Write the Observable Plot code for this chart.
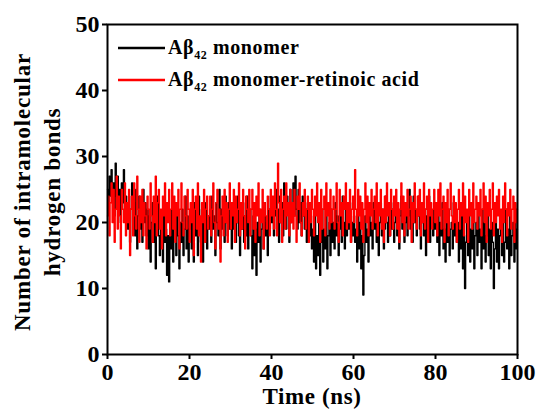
<!DOCTYPE html>
<html>
<head>
<meta charset="utf-8">
<script src="https://cdn.jsdelivr.net/npm/d3@7"></script>
<script src="https://cdn.jsdelivr.net/npm/@observablehq/plot@0.6"></script>
<style>
  html, body { margin: 0; padding: 0; background: #fff; }
</style>
</head>
<body>
<div id="chart"></div>
<script>
// Number of intramolecular hydrogen bonds, sampled every 0.25 ns over 0–100 ns
const monomer = [
  25,22,27,24,28,23,26,21,29,24,27,22,25,20,26,23,28,22,24,21,
  19,24,17,22,26,20,23,18,25,16,21,24,19,22,17,25,20,23,18,22,
  16,21,14,20,23,17,22,13,19,24,18,15,21,20,14,22,17,19,12,18,
  11,20,16,22,14,19,21,15,23,18,13,20,17,22,15,19,24,16,21,14,
  19,22,16,20,14,23,18,21,15,24,19,17,22,14,20,18,23,16,21,19,
  22,17,24,19,21,15,23,20,18,25,16,22,19,21,17,24,20,18,23,19,
  21,16,23,19,22,17,20,24,18,15,22,19,23,17,21,18,24,16,20,22,
  18,13,21,15,19,12,20,17,22,14,19,21,16,23,18,20,15,22,19,24,
  20,23,18,21,25,19,22,17,24,20,23,18,26,21,19,24,22,17,25,20,
  23,26,21,27,22,19,25,20,23,18,24,21,19,22,17,23,20,18,21,16,
  19,14,21,13,18,15,20,12,17,22,14,19,16,21,13,18,20,15,22,17,
  20,16,23,18,21,15,19,22,17,24,20,16,22,18,21,19,23,17,20,18,
  21,17,19,14,22,16,20,13,18,9,15,21,17,19,14,22,18,20,16,23,
  19,22,17,21,15,20,23,18,22,16,19,24,20,17,21,18,23,19,22,17,
  20,23,18,22,16,21,24,19,22,17,20,23,18,21,25,19,22,17,24,20,
  22,18,21,24,19,16,23,20,18,22,15,21,19,24,17,22,20,18,23,19,
  21,17,22,15,20,18,23,16,19,14,21,17,22,15,19,20,16,23,18,21,
  17,20,14,19,16,21,13,18,10,17,20,15,22,14,19,16,21,13,18,20,
  15,21,17,19,13,22,16,20,14,18,21,15,19,13,20,17,10,16,22,14,
  19,13,18,21,15,20,14,17,22,16,19,13,21,15,18,20,14,22,16,19
];
const monomerRA = [
  21,24,18,23,26,20,25,17,22,27,19,24,21,16,25,22,20,26,18,23,
  20,25,15,22,24,18,26,21,19,27,22,17,24,20,25,18,23,21,16,24,
  22,19,26,21,17,24,20,27,18,23,25,19,22,16,24,21,26,18,23,20,
  25,18,22,26,19,24,17,23,21,25,16,22,26,20,18,24,21,19,25,22,
  17,23,20,25,15,22,24,19,26,18,21,14,23,20,25,17,22,24,19,21,
  24,18,22,26,20,16,23,25,19,22,14,21,24,18,25,20,23,17,22,26,
  19,23,21,25,17,24,20,22,26,18,23,19,25,21,16,24,22,20,25,18,
  22,25,19,23,17,24,21,26,18,22,20,25,16,23,21,19,24,22,18,25,
  21,24,19,26,22,18,29,23,20,25,17,22,24,19,26,21,23,18,25,20,
  23,19,25,21,17,24,22,26,20,18,23,21,25,19,22,24,17,23,20,25,
  22,18,24,21,26,20,23,17,25,19,22,24,18,26,21,23,19,25,20,22,
  24,19,22,26,20,17,25,21,23,18,24,22,26,19,23,20,25,17,22,24,
  20,28,22,18,25,21,24,19,23,17,22,26,20,24,18,23,21,25,19,22,
  24,20,26,18,23,21,25,19,22,17,24,20,26,21,23,18,25,22,19,24,
  21,25,19,23,17,22,26,20,24,18,23,21,25,19,22,24,17,23,20,26,
  22,19,24,21,25,18,23,20,26,19,22,24,17,25,21,23,19,22,25,20,
  23,18,25,21,26,19,22,24,17,23,20,25,18,22,26,21,19,24,20,23,
  17,22,25,19,23,21,26,18,24,20,22,17,25,21,23,19,26,20,22,24,
  19,23,21,25,18,22,26,20,24,17,23,21,25,19,22,26,18,23,20,24,
  21,25,19,22,17,24,20,26,22,18,23,21,25,19,22,24,17,23,20,22
];
const xTicks = [0, 20, 40, 60, 80, 100];
const yTicks = [0, 10, 20, 30, 40, 50];
const seriesNames = ["monomer", "monomer-retinoic acid"];
const seriesColors = ["#000000", "#ff0000"];
const xTitle = "Time (ns)";
const yTitleLines = ["Number of intramolecular", "hydrogen bonds"];

const tEnd = 100;
const toRows = arr => arr.map((v, i) => ({t: i * tEnd / (arr.length - 1), v}));
const rowsA = toRows(monomer);
const rowsB = toRows(monomerRA);

const chart = Plot.plot({
  width: 538,
  height: 411,
  marginLeft: 107,
  marginRight: 21,
  marginTop: 24,
  marginBottom: 57,
  x: {domain: [0, 100]},
  y: {domain: [0, 50]},
  style: {fontFamily: "Liberation Serif", fontWeight: "bold", fontSize: "24px", color: "#000"},
  marks: [
    Plot.line(rowsA, {x: "t", y: "v", stroke: seriesColors[0], strokeWidth: 1.4, curve: "step"}),
    Plot.line(rowsB, {x: "t", y: "v", stroke: seriesColors[1], strokeWidth: 1.4, curve: "step"}),
    Plot.frame({stroke: "#000", strokeWidth: 2}),
    Plot.axisX({ticks: xTicks, tickSize: 5, tickPadding: 3, strokeWidth: 2, fontSize: 24, label: null}),
    Plot.axisY({ticks: yTicks, tickSize: 5, tickPadding: 3, strokeWidth: 2, fontSize: 24, label: null})
  ]
});

document.getElementById("chart").appendChild(chart);

const svg = d3.select(chart);
// axis titles
svg.append("text")
  .attr("x", 312).attr("y", 404)
  .attr("text-anchor", "middle")
  .attr("font-size", 23)
  .attr("letter-spacing", 0.6)
  .attr("fill", "#000")
  .text(xTitle);
const yt = svg.append("text")
  .attr("transform", "translate(0,192) rotate(-90)")
  .attr("text-anchor", "middle")
  .attr("font-size", 23)
  .attr("letter-spacing", 0.8)
  .attr("fill", "#000");
yt.append("tspan").attr("x", 0).attr("y", 30).text(yTitleLines[0]);
yt.append("tspan").attr("x", 0).attr("y", 60).text(yTitleLines[1]);

// legend
seriesNames.forEach((name, i) => {
  const y = 48 + i * 32;
  svg.append("line")
    .attr("x1", 118).attr("x2", 165).attr("y1", y).attr("y2", y)
    .attr("stroke", seriesColors[i]).attr("stroke-width", 2.5);
  const t = svg.append("text")
    .attr("x", 168).attr("y", y + 6)
    .attr("text-anchor", "start")
    .attr("font-size", 20)
    .attr("letter-spacing", 0.6)
    .attr("fill", "#000");
  t.append("tspan").text("Aβ");
  t.append("tspan").attr("font-size", 12).attr("dy", 5).text("42");
  t.append("tspan").attr("dy", -5).text(" " + name);
});
</script>
</body>
</html>
